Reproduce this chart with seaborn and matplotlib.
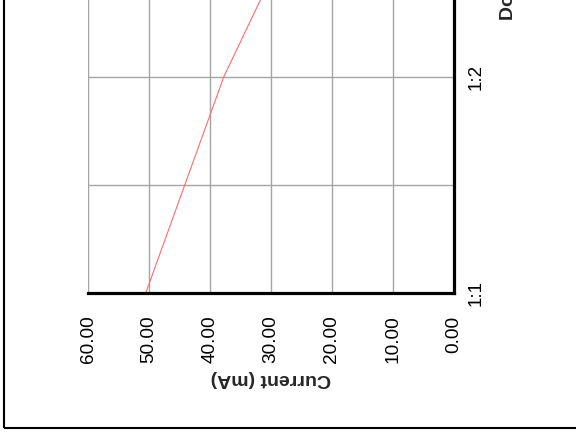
import matplotlib
matplotlib.use("Agg")
import matplotlib.pyplot as plt
from matplotlib.patches import Rectangle
from matplotlib.ticker import MultipleLocator
import numpy as np
import pandas as pd
import seaborn as sns

# Data
ratios = ["1:1", "1:2", "1:3"]
current_ma = [50.5, 37.7, 20.8]
current_ticks = [60, 50, 40, 30, 20, 10, 0]

sns.set_style("white")
plt.rcParams["font.family"] = ["Liberation Sans", "DejaVu Sans"]

df = pd.DataFrame({
    "ratio_pos": np.arange(len(ratios)),
    "current": current_ma,
})

W, H = 576, 440
fig = plt.figure(figsize=(W / 100, H / 100), dpi=100)

# Axes placed in pixel terms (the plot continues past the top of the canvas)
ax_left, ax_right = 88, 453.5
ax_bottom_px, unit_px = 292.7, 216.0
n_units = len(ratios) - 1
ax_top_px = ax_bottom_px - unit_px * n_units
ax = fig.add_axes([
    ax_left / W,
    (H - ax_bottom_px) / H,
    (ax_right - ax_left) / W,
    (ax_bottom_px - ax_top_px) / H,
])

sns.lineplot(data=df, x="current", y="ratio_pos", orient="y",
             color="#ff6a6a", linewidth=0.8, ax=ax, legend=False)

# Current axis runs from 60 (left) to 0 (right)
ax.set_xlim(60, 0)
ax.set_xticks(current_ticks)
ax.set_xticklabels([f"{v:.2f}" for v in current_ticks])
ax.set_ylim(0, n_units)
ax.set_yticks(np.arange(len(ratios)))
ax.set_yticklabels(ratios)
ax.yaxis.set_minor_locator(MultipleLocator(0.5))

ax.grid(True, which="both", color="#a4a4a4", linewidth=1.0)
ax.set_axisbelow(True)

for side in ["left", "top"]:
    ax.spines[side].set_visible(False)
for side in ["right", "bottom"]:
    ax.spines[side].set_visible(True)
    ax.spines[side].set_color("black")
    ax.spines[side].set_linewidth(2.3)
    ax.spines[side].set_capstyle("projecting")

ax.tick_params(axis="x", which="both", length=0, pad=16.5,
               labelsize=13.7, labelrotation=90, colors="black")
ax.tick_params(axis="y", which="both", left=False, labelleft=False,
               right=False, labelright=True, length=0, pad=10,
               labelsize=13.5, colors="black")
for lbl in ax.get_yticklabels():
    lbl.set_rotation(90)
    lbl.set_va("center")
    lbl.set_ha("left")

ax.set_xlabel("Current (mA)", fontsize=14, fontweight="bold",
              rotation=180, labelpad=5)
ax.set_ylabel("Dose Ratio", fontsize=14, fontweight="bold")
ax.yaxis.set_label_position("right")
ax.yaxis.label.set_rotation(90)
ax.yaxis.label.set_rotation_mode("anchor")
ax.yaxis.label.set_ha("left")
ax.yaxis.label.set_va("baseline")
ax.yaxis.set_label_coords((513 - ax_left) / (ax_right - ax_left),
                          (ax_bottom_px - 19.5) / (ax_bottom_px - ax_top_px))

# Chart frame (extends beyond the canvas on the top and right)
fig.patches.append(Rectangle((4 / W, (H - 428) / H), 2, 2,
                             transform=fig.transFigure, fill=False,
                             edgecolor="black", linewidth=1.5,
                             clip_on=False))

fig.savefig("out.png", dpi=100)
